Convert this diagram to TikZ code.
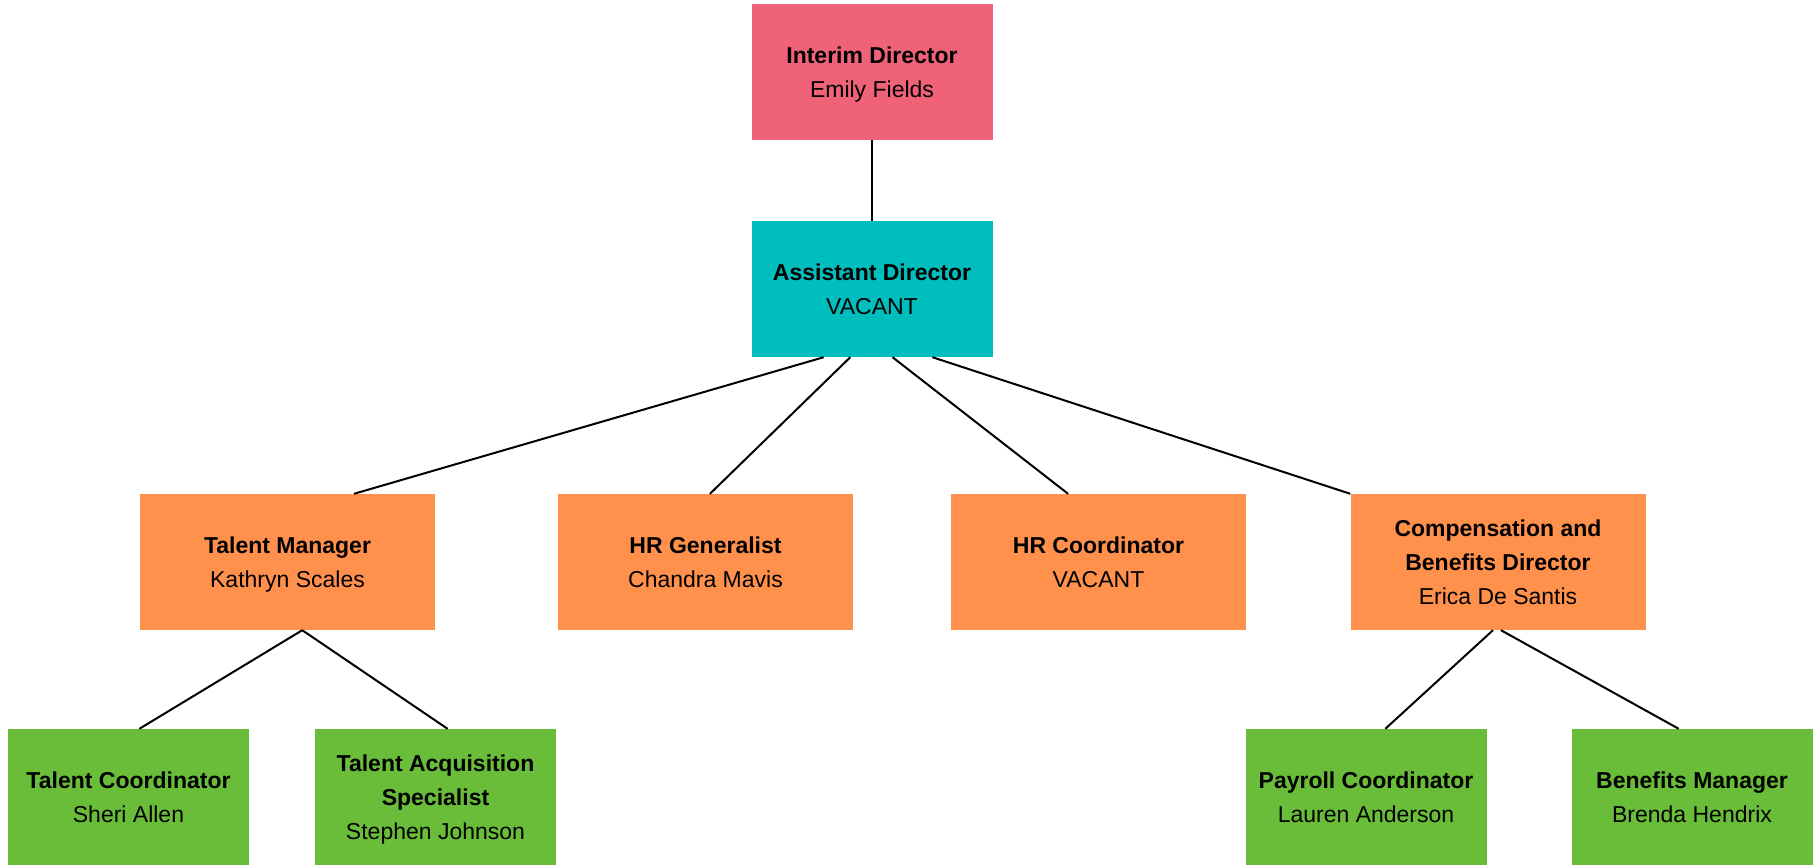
\documentclass[tikz,border=0pt]{standalone}
\usepackage{fontspec}
\setmainfont{Liberation Sans}
\usetikzlibrary{calc}

\definecolor{topred}{HTML}{F06278}
\definecolor{midteal}{HTML}{00BEBE}
\definecolor{orangebox}{HTML}{FF914D}
\definecolor{greenbox}{HTML}{6ABD39}

\begin{document}
\begin{tikzpicture}[x=1pt,y=-1pt,
  box/.style={rectangle,inner sep=0pt,minimum height=136pt,align=center,
    text depth=0pt,font=\fontsize{23}{34}\selectfont},
  small/.style={box,minimum width=241pt},
  big/.style={box,minimum width=295pt},
  link/.style={line width=2pt}]

\useasboundingbox (0,0) rectangle (1818,865);

%\tikzset{level distance=42pt}

\node[small,fill=topred](id) at (872,72){\textbf{Interim Director}\\Emily Fields};
\node[small,fill=midteal](ad) at (872,289){\textbf{Assistant Director}\\VACANT};

\node[big,fill=orangebox](tm) at (287.5,562){\textbf{Talent Manager}\\Kathryn Scales};
\node[big,fill=orangebox](hg) at (705.5,562){\textbf{HR Generalist}\\Chandra Mavis};
\node[big,fill=orangebox](hc) at (1098.5,562){\textbf{HR Coordinator}\\VACANT};
\node[big,fill=orangebox](cb) at (1498,562){\textbf{Compensation and}\\\textbf{Benefits Director}\\Erica De Santis};

\node[small,fill=greenbox](tc) at (128.5,797){\textbf{Talent Coordinator}\\Sheri Allen};
\node[small,fill=greenbox](ta) at (435.5,797){\textbf{Talent Acquisition}\\\textbf{Specialist}\\Stephen Johnson};
\node[small,fill=greenbox](pc) at (1366,797){\textbf{Payroll Coordinator}\\Lauren Anderson};
\node[small,fill=greenbox](bm) at (1692,797){\textbf{Benefits Manager}\\Brenda Hendrix};

\draw[link] (id.south) -- (ad.north);

\draw[link] ($(ad.south west)!.30!(ad.south east)$) -- ($(tm.north west)!.725!(tm.north east)$);
\draw[link] ($(ad.south west)!.41!(ad.south east)$) -- ($(hg.north west)!.515!(hg.north east)$);
\draw[link] ($(ad.south west)!.585!(ad.south east)$) -- ($(hc.north west)!.397!(hc.north east)$);
\draw[link] ($(ad.south west)!.75!(ad.south east)$) -- (cb.north west);

\draw[link] ($(tm.south west)!.55!(tm.south east)$) -- ($(tc.north west)!.545!(tc.north east)$);
\draw[link] ($(tm.south west)!.55!(tm.south east)$) -- ($(ta.north west)!.55!(ta.north east)$);

\draw[link] ($(cb.south west)!.483!(cb.south east)$) -- ($(pc.north west)!.58!(pc.north east)$);
\draw[link] ($(cb.south west)!.51!(cb.south east)$) -- ($(bm.north west)!.445!(bm.north east)$);
\end{tikzpicture}
\end{document}
